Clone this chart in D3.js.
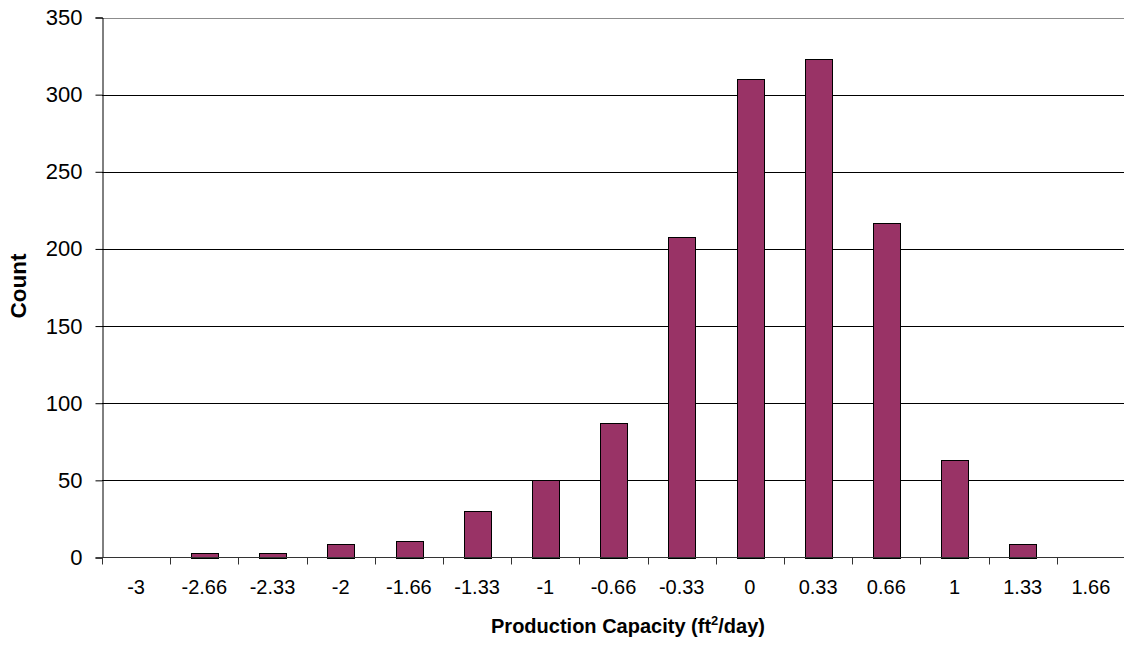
<!DOCTYPE html>
<html>
<head>
<meta charset="utf-8">
<script src="https://cdn.jsdelivr.net/npm/d3@7"></script>
<style>
  html, body { margin: 0; padding: 0; background: #fff; }
  svg { display: block; font-family: Arial, "Liberation Sans", sans-serif; }
</style>
</head>
<body>
<svg id="chart" width="1124" height="645"></svg>
<script>
const categories = ["-3", "-2.66", "-2.33", "-2", "-1.66", "-1.33", "-1", "-0.66", "-0.33", "0", "0.33", "0.66", "1", "1.33", "1.66"];
const counts = [0, 3, 3, 9, 11, 30, 50, 87, 208, 310, 323, 217, 63, 9, 0];
const yTicks = [0, 50, 100, 150, 200, 250, 300, 350];

(function () {
const svg = d3.select("#chart");
const plotLeft = 102, plotTop = 17.5, plotBottom = 557.5, plotRight = 1125;

const x = d3.scaleBand().domain(categories).range([plotLeft, plotRight]).padding(0);
const y = d3.scaleLinear().domain([0, 350]).range([plotBottom, plotTop]);

// gridlines
svg.append("g").selectAll("line").data(yTicks.filter(d => d > 0)).join("line")
  .attr("x1", plotLeft).attr("x2", 1124)
  .attr("y1", d => Math.round(y(d)) + 0.5).attr("y2", d => Math.round(y(d)) + 0.5)
  .attr("stroke", d => d === 350 ? "#8c8c8c" : "#000")
  .attr("stroke-width", 1);

// bars
const bw = x.bandwidth() * 0.39;
svg.append("g").selectAll("rect").data(categories.map((c, i) => ({c, v: counts[i]})).filter(d => d.v > 0)).join("rect")
  .attr("x", d => Math.round(x(d.c) + x.bandwidth() / 2 - bw / 2) + 0.5)
  .attr("width", Math.round(bw))
  .attr("y", d => Math.round(y(d.v)) + 0.5)
  .attr("height", d => Math.round(plotBottom) - Math.round(y(d.v)))
  .attr("fill", "#993366")
  .attr("stroke", "#000")
  .attr("stroke-width", 1);

// y axis
const yAxis = d3.axisLeft(y).tickValues(yTicks).tickSize(7).tickPadding(13).tickFormat(d3.format("d"));
const gy = svg.append("g").attr("transform", `translate(${plotLeft + 0.5},0)`).call(yAxis);
gy.select(".domain").attr("stroke", "#000");
gy.selectAll(".tick line").attr("stroke", "#000");
gy.selectAll(".tick text").attr("font-size", "22px").attr("fill", "#000")
  .attr("font-family", "Arial, 'Liberation Sans', sans-serif");

// x axis baseline
svg.append("line").attr("x1", plotLeft).attr("x2", 1124)
  .attr("y1", plotBottom).attr("y2", plotBottom).attr("stroke", "#333");

// x ticks at category boundaries
svg.append("g").selectAll("line").data(categories).join("line")
  .attr("x1", d => Math.round(x(d)) + 0.5).attr("x2", d => Math.round(x(d)) + 0.5)
  .attr("y1", plotBottom).attr("y2", plotBottom + 7)
  .attr("stroke", "#333");

// x labels
svg.append("g").selectAll("text").data(categories).join("text")
  .attr("x", d => x(d) + x.bandwidth() / 2)
  .attr("y", 594)
  .attr("text-anchor", "middle")
  .attr("font-size", "20px")
  .attr("fill", "#000")
  .text(d => d);

// axis titles
const xt = svg.append("text").attr("x", 628).attr("y", 633)
  .attr("text-anchor", "middle").attr("font-size", "20px").attr("font-weight", "bold").attr("fill", "#000");
xt.append("tspan").text("Production Capacity (ft");
xt.append("tspan").attr("font-size", "13px").attr("dy", "-8").text("2");
xt.append("tspan").attr("dy", "8").text("/day)");

svg.append("text").attr("transform", "translate(26,286) rotate(-90)")
  .attr("text-anchor", "middle").attr("font-size", "22.5px").attr("font-weight", "bold").attr("fill", "#000")
  .text("Count");
})();
</script>
</body>
</html>
